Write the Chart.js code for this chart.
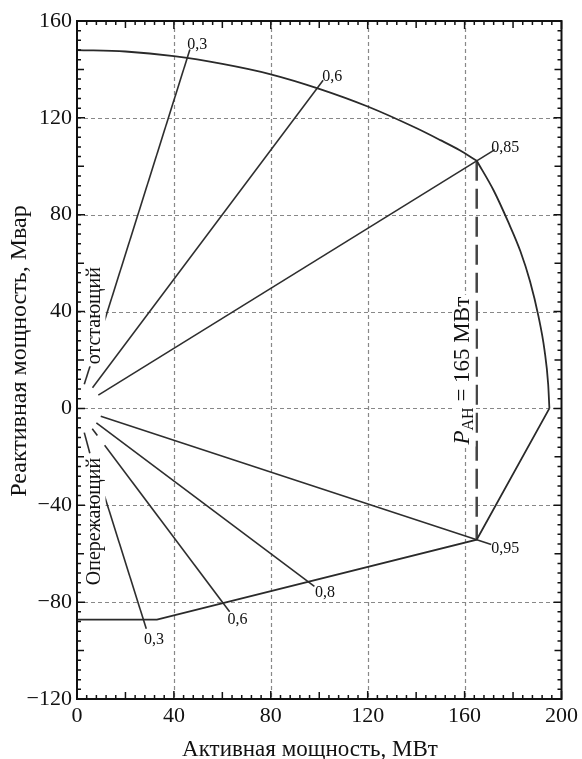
<!DOCTYPE html>
<html>
<head>
<meta charset="utf-8">
<script src="https://cdn.jsdelivr.net/npm/chart.js@4.4.0/dist/chart.umd.min.js"></script>
<style>
  html, body { margin: 0; padding: 0; background: #fff; }
</style>
</head>
<body>
<canvas id="chart" width="582" height="759"></canvas>
<script>
// Rotor heating limit (upper arc)
const rotorP = [0, 20, 40, 60, 80, 100, 120, 140, 150, 158, 165];
const rotorQ = [148, 147.4, 145.5, 142.3, 138, 132, 124.7, 115.8, 110.8, 106.6, 102.3];
// Stator heating limit (right arc)
const statorP = [165, 172, 178, 183, 187, 190.5, 193, 194.5, 195];
const statorQ = [102.3, 90, 77, 65, 52.5, 38, 24, 10, 0];
// Leading (underexcited) limit
const leadP = [195, 165, 33, 0];
const leadQ = [0, -54.2, -87.2, -87.2];
// Rated active power line
const ratedP = [165, 165];
const ratedQ = [102.3, -54.2];

// Power factor rays
const pfLabels = ['0,3', '0,6', '0,85', '0,95', '0,8', '0,6', '0,3'];
const rayStartP = [11.4, 6.4, 8.8, 9.8, 8, 11.4, 11.4];
const rayStartQ = [36.3, 8.5, 5.5, -3.2, -6, -15.2, -36.3];
const rayEndP = [46.6, 101.6, 172.5, 171, 98, 63, 28.6];
const rayEndQ = [148.2, 135.5, 106.9, -56.2, -73.5, -84, -91];
// short stubs near the origin
const stubStartP = [3, 3, 6.3];
const stubStartQ = [10, -10, -8.4];
const stubEndP = [5.4, 5.3, 8.4];
const stubEndQ = [17.5, -18.5, -11.2];
// label anchors (left edge, middle)
const labelP = [45.5, 101.2, 171, 171, 98.2, 62.1, 27.7];
const labelQ = [150, 137, 107.8, -58, -76, -87.2, -95.5];

const xTicks = [0, 40, 80, 120, 160, 200];
const yTicks = [-120, -80, -40, 0, 40, 80, 120, 160];

const SERIF = '"Liberation Serif", "Times New Roman", serif';

function pts(xs, ys) {
  return xs.map((x, i) => ({ x: x, y: ys[i] }));
}

function line(data, width, color, dash, smooth) {
  return {
    data: data,
    showLine: true,
    borderColor: color,
    borderWidth: width,
    borderDash: dash || [],
    pointRadius: 0,
    fill: false,
    tension: 0,
    cubicInterpolationMode: smooth ? 'monotone' : 'default'
  };
}

const datasets = [
  line(pts(rotorP, rotorQ), 1.8, '#2a2a2a', null, true),
  line(pts(statorP, statorQ), 1.8, '#2a2a2a', null, true),
  line(pts(leadP, leadQ), 1.8, '#2a2a2a'),
  line(pts(ratedP, ratedQ), 2.5, '#444', [20, 8])
];
rayStartP.forEach((p, i) => {
  datasets.push(line(pts([p, rayEndP[i]], [rayStartQ[i], rayEndQ[i]]), 1.6, '#2e2e2e'));
});
stubStartP.forEach((p, i) => {
  datasets.push(line(pts([p, stubEndP[i]], [stubStartQ[i], stubEndQ[i]]), 1.6, '#2e2e2e'));
});

// vertical text with white background
function vText(ctx, parts, x, y, bg) {
  ctx.save();
  ctx.translate(x, y);
  ctx.rotate(-Math.PI / 2);
  ctx.textBaseline = 'alphabetic';
  ctx.textAlign = 'left';
  let total = 0;
  parts.forEach(p => { ctx.font = p.font; total += ctx.measureText(p.text).width; });
  if (bg) {
    ctx.fillStyle = '#fff';
    ctx.fillRect(-total / 2 - 2, -bg[0], total + 4, bg[0] + bg[1]);
  }
  let cx = -total / 2;
  ctx.fillStyle = '#111';
  parts.forEach(p => {
    ctx.font = p.font;
    ctx.fillText(p.text, cx, p.dy || 0);
    cx += ctx.measureText(p.text).width;
  });
  ctx.restore();
}

const decor = {
  id: 'decor',
  beforeDatasetsDraw(chart) {
    const { ctx, chartArea: a, scales: { x, y } } = chart;
    ctx.save();
    ctx.strokeStyle = '#888';
    ctx.lineWidth = 1.2;
    ctx.setLineDash([4, 3]);
    xTicks.slice(1, -1).forEach(v => {
      const px = Math.round(x.getPixelForValue(v)) + 0.5;
      ctx.beginPath(); ctx.moveTo(px, a.top); ctx.lineTo(px, a.bottom); ctx.stroke();
    });
    yTicks.slice(1, -1).forEach(v => {
      const py = Math.round(y.getPixelForValue(v)) + 0.5;
      ctx.beginPath(); ctx.moveTo(a.left, py); ctx.lineTo(a.right, py); ctx.stroke();
    });
    ctx.restore();
  },
  afterDatasetsDraw(chart) {
    const { ctx, chartArea: a, scales: { x, y } } = chart;
    ctx.save();

    // rotated annotations
    vText(ctx, [{ text: 'отстающий', font: '20px ' + SERIF }],
      x.getPixelForValue(9.7), y.getPixelForValue(38.3), [15, 5]);
    vText(ctx, [{ text: 'Опережающий', font: '20px ' + SERIF }],
      x.getPixelForValue(9.7), y.getPixelForValue(-46.7), [15, 5]);
    vText(ctx, [
      { text: 'P', font: 'italic 23px ' + SERIF },
      { text: 'АН', font: '16px ' + SERIF, dy: 4 },
      { text: ' = 165 МВт', font: '23px ' + SERIF }
    ], x.getPixelForValue(162), y.getPixelForValue(15.6), [17, 6]);

    // power factor labels
    ctx.fillStyle = '#111';
    ctx.font = '16px ' + SERIF;
    ctx.textAlign = 'left';
    ctx.textBaseline = 'middle';
    pfLabels.forEach((t, i) => {
      ctx.fillText(t, x.getPixelForValue(labelP[i]), y.getPixelForValue(labelQ[i]));
    });

    // frame
    ctx.strokeStyle = '#111';
    ctx.lineWidth = 2;
    ctx.strokeRect(a.left, a.top, a.right - a.left, a.bottom - a.top);

    // inward ticks on all sides
    ctx.lineWidth = 1.5;
    const len = v => (v % 40 === 0 ? 8 : v % 20 === 0 ? 7 : 4);
    for (let v = 0; v <= 200; v += 4) {
      const px = x.getPixelForValue(v);
      const l = len(v);
      ctx.beginPath();
      ctx.moveTo(px, a.bottom); ctx.lineTo(px, a.bottom - l);
      ctx.moveTo(px, a.top); ctx.lineTo(px, a.top + l);
      ctx.stroke();
    }
    for (let v = -120; v <= 160; v += 4) {
      const py = y.getPixelForValue(v);
      const l = len(Math.abs(v));
      ctx.beginPath();
      ctx.moveTo(a.left, py); ctx.lineTo(a.left + l, py);
      ctx.moveTo(a.right, py); ctx.lineTo(a.right - l, py);
      ctx.stroke();
    }

    // axis titles
    ctx.fillStyle = '#111';
    ctx.textAlign = 'center';
    ctx.textBaseline = 'alphabetic';
    ctx.font = '23px ' + SERIF;
    ctx.fillText('Активная мощность, МВт', 310, 756);
    ctx.translate(26, 351);
    ctx.rotate(-Math.PI / 2);
    ctx.font = '24px ' + SERIF;
    ctx.fillText('Реактивная мощность, Мвар', 0, 0);
    ctx.restore();
  }
};

const tickFont = { family: SERIF, size: 22 };
const minusLabel = v => (v < 0 ? '\u2212' + Math.abs(v) : String(v));

new Chart(document.getElementById('chart'), {
  type: 'scatter',
  data: { datasets: datasets },
  options: {
    responsive: false,
    animation: false,
    devicePixelRatio: 1,
    layout: { padding: { top: 21, right: 20, bottom: 0, left: 0 } },
    plugins: { legend: { display: false }, tooltip: { enabled: false } },
    scales: {
      x: {
        type: 'linear',
        min: 0, max: 200,
        afterFit: s => { s.height = 60; },
        afterBuildTicks: s => { s.ticks = xTicks.map(v => ({ value: v })); },
        grid: { display: false, drawTicks: false },
        border: { display: false },
        ticks: { font: tickFont, color: '#111', padding: 4, maxRotation: 0, callback: minusLabel }
      },
      y: {
        type: 'linear',
        min: -120, max: 160,
        afterFit: s => { s.width = 77; },
        afterBuildTicks: s => { s.ticks = yTicks.map(v => ({ value: v })); },
        grid: { display: false, drawTicks: false },
        border: { display: false },
        ticks: { font: tickFont, color: '#111', padding: 5, callback: minusLabel }
      }
    }
  },
  plugins: [decor]
});
</script>
</body>
</html>
